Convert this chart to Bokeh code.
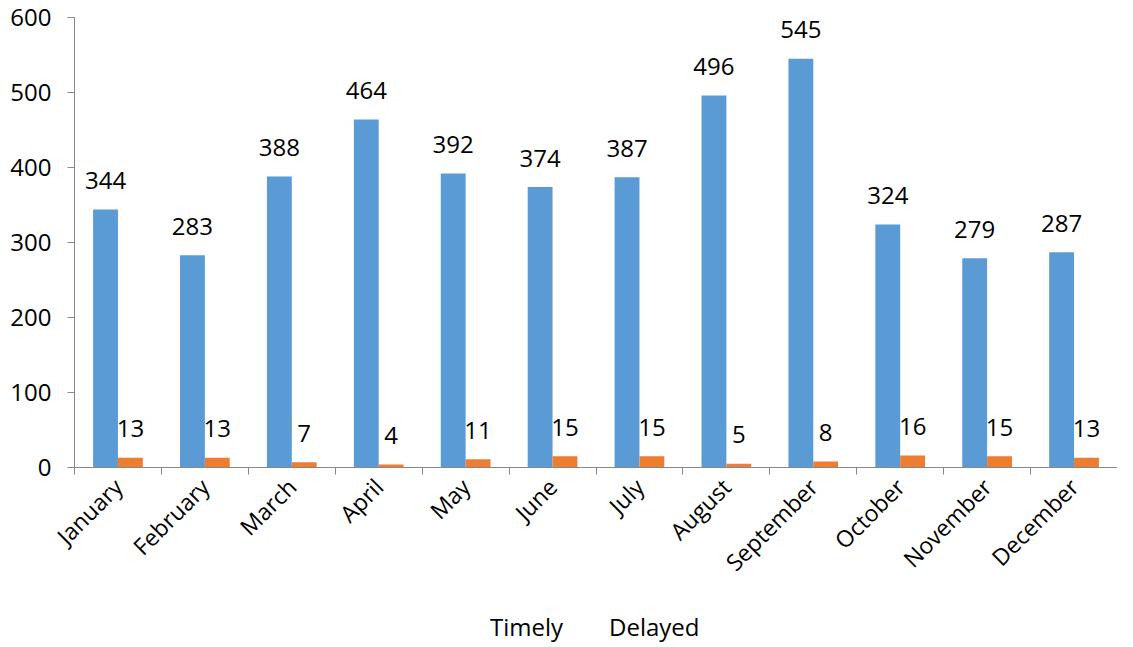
import numpy as np
from bokeh.plotting import figure
from bokeh.layouts import column
from bokeh.models import (ColumnDataSource, Range1d, FixedTicker, Legend, LegendItem,
                          LinearAxis, CDSView, IndexFilter)
from bokeh.transform import dodge
from bokeh.core.properties import value
from bokeh.embed import file_html
from bokeh.resources import INLINE

months = ["January", "February", "March", "April", "May", "June", "July",
          "August", "September", "October", "November", "December"]
timely = [344, 283, 388, 464, 392, 374, 387, 496, 545, 324, 279, 287]
delayed = [13, 13, 7, 4, 11, 15, 15, 5, 8, 16, 15, 13]
y_ticks = [0, 100, 200, 300, 400, 500, 600]

BLUE = "#5B9BD5"
ORANGE = "#ED7D31"
AXIS = "#888888"
FONT = "Open Sans"

xpos = [i + 0.5 for i in range(len(months))]
src = ColumnDataSource(dict(x=xpos, month=months, timely=timely, delayed=delayed,
                            tl=[str(v) for v in timely], dl=[str(v) for v in delayed]))

p = figure(width=1117, height=591, output_backend="svg", toolbar_location=None,
           x_range=Range1d(0, len(months)), y_range=Range1d(0, 600),
           min_border_left=74, min_border_right=0, min_border_top=17, min_border_bottom=124,
           x_axis_type=None, y_axis_type=None)
p.outline_line_color = None
p.xgrid.visible = False
p.ygrid.visible = False
p.background_fill_color = "white"
p.border_fill_color = "white"

bw = 0.286
r1 = p.vbar(x=dodge("x", -bw / 2, range=p.x_range), top="timely", width=bw, source=src,
            fill_color=BLUE, line_color=None)
r2 = p.vbar(x=dodge("x", bw / 2, range=p.x_range), top="delayed", width=bw, source=src,
            fill_color=ORANGE, line_color=None)

p.text(x=dodge("x", -bw / 2, range=p.x_range), y="timely", text="tl", source=src,
       text_align="center", text_baseline="alphabetic", y_offset=-29,
       text_font=value(FONT), text_font_size="24px", text_color="black")
p.text(x=dodge("x", bw / 2, range=p.x_range), y="delayed", text="dl", source=src,
       text_align="center", text_baseline="alphabetic", y_offset=-29,
       text_font=value(FONT), text_font_size="24px", text_color="black")

# y axis
ya = LinearAxis(ticker=FixedTicker(ticks=y_ticks, minor_ticks=[]))
ya.axis_line_color = AXIS
ya.major_tick_line_color = AXIS
ya.major_tick_out = 7
ya.major_tick_in = 0
ya.minor_tick_out = 0
ya.major_label_standoff = 16
ya.major_label_text_font = FONT
ya.major_label_text_font_size = "24px"
ya.major_label_text_color = "black"
p.add_layout(ya, "left")

# x axis: ticks at category boundaries, labels at centres
xa = LinearAxis(ticker=FixedTicker(ticks=xpos, minor_ticks=list(range(len(months) + 1))))
xa.major_label_overrides = {x: m for x, m in zip(xpos, months)}
xa.axis_line_color = AXIS
xa.major_tick_out = 0
xa.major_tick_in = 0
xa.minor_tick_line_color = AXIS
xa.minor_tick_out = 7
xa.minor_tick_in = 0
xa.major_label_orientation = np.pi / 4
xa.major_label_standoff = 8
xa.major_label_text_font = FONT
xa.major_label_text_font_size = "23px"
xa.major_label_text_color = "black"
p.add_layout(xa, "below")

# legend strip below the chart
p2 = figure(width=1117, height=54, output_backend="svg", toolbar_location=None,
            x_range=Range1d(0, len(months)), y_range=Range1d(0, 600),
            min_border=0, x_axis_type=None, y_axis_type=None)
p2.outline_line_color = None
p2.background_fill_color = "white"
p2.border_fill_color = "white"
p2.xgrid.visible = False
p2.ygrid.visible = False
empty = CDSView(filter=IndexFilter(indices=[]))
lr1 = p2.vbar(x="x", top="timely", width=bw, source=src, view=empty,
              fill_color=BLUE, line_color=None)
lr2 = p2.vbar(x="x", top="delayed", width=bw, source=src,
              view=CDSView(filter=IndexFilter(indices=[])),
              fill_color=ORANGE, line_color=None)

legend = Legend(items=[LegendItem(label="Timely", renderers=[lr1]),
                       LegendItem(label="Delayed", renderers=[lr2])],
                orientation="horizontal", location=(393, 2))
legend.padding = 0
legend.margin = 0
legend.border_line_alpha = 0
legend.background_fill_alpha = 0
legend.glyph_width = 16
legend.glyph_height = 16
legend.label_standoff = 7
legend.spacing = 23
legend.label_text_font = FONT
legend.label_text_font_size = "24px"
legend.label_text_color = "black"
p2.add_layout(legend, "center")

layout = column(p, p2, spacing=0)
open("out.html", "w").write(file_html(layout, INLINE))
